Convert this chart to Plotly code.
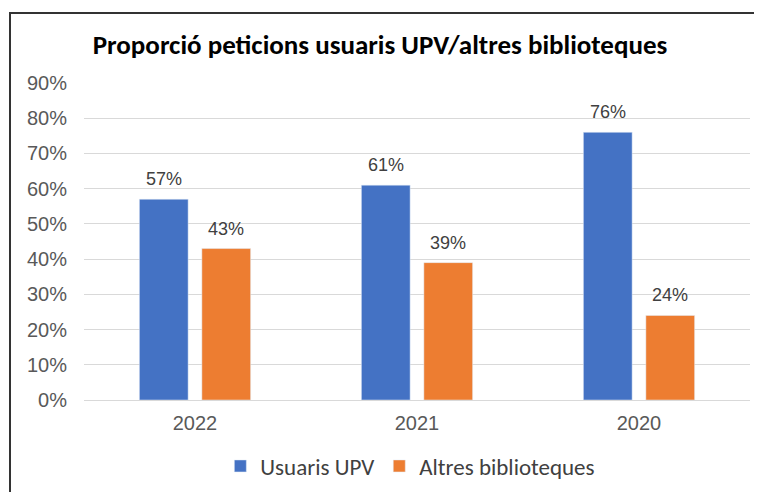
import plotly.graph_objects as go

years = ["2022", "2021", "2020"]
usuaris_upv = [0.57, 0.61, 0.76]
altres_biblioteques = [0.43, 0.39, 0.24]
series_names = ["Usuaris UPV", "Altres biblioteques"]
title_text = "Proporció peticions usuaris UPV/altres biblioteques"

blue = "#4472C4"
orange = "#ED7D31"
tick_color = "#595959"

# page has an 8px body margin; figure coordinates are page - 8
W, H = 754, 484
BARGAP, GROUPGAP = 0.437, 0.22
PLOT_W = W - 76 - 12
slot_px = PLOT_W / len(years) * (1 - BARGAP) / 2

fig = go.Figure()
series = [(series_names[0], usuaris_upv, blue), (series_names[1], altres_biblioteques, orange)]
for name, vals, col in series:
    fig.add_trace(go.Bar(x=years, y=vals, name=name, marker_color=col))

annotations = []
for i, (name, vals, col) in enumerate(series):
    shift = (i - 0.5) * slot_px
    for j, v in enumerate(vals):
        annotations.append(dict(
            x=j, y=v, xref="x", yref="y", text=f"{round(v*100)}%", showarrow=False,
            xanchor="center", yanchor="bottom", xshift=shift, yshift=8,
            font=dict(family="Liberation Sans, Arial", size=18, color="#404040"),
        ))

fig.update_layout(
    width=W, height=H,
    paper_bgcolor="white", plot_bgcolor="white",
    margin=dict(l=76, r=12, t=75, b=92),
    barmode="group", bargap=BARGAP, bargroupgap=GROUPGAP,
    title=dict(text=f"<b>{title_text}</b>", x=(380-8)/W, xanchor="center",
               y=1 - 37/H, yanchor="middle", yref="container",
               font=dict(family="Carlito, Open Sans, sans-serif", size=27, color="#000000")),
    xaxis=dict(type="category", categoryorder="array", categoryarray=years,
               range=[-0.5, len(years) - 0.5], automargin=False,
               showgrid=False, showline=True, linecolor="#d9d9d9", linewidth=1,
               ticks="", ticklabelstandoff=5,
               tickfont=dict(family="Liberation Sans, Arial", size=20, color=tick_color)),
    yaxis=dict(range=[0, 0.9], dtick=0.1, tickformat=".0%", showgrid=True, automargin=False,
               gridcolor="#d9d9d9", gridwidth=1, zeroline=False, ticks="",
               tickfont=dict(family="Liberation Sans, Arial", size=20, color=tick_color),
               ticklabelstandoff=16),
    legend=dict(orientation="h", x=0.49, xanchor="center", xref="paper",
                y=1 - 458/H, yanchor="middle", yref="container",
                font=dict(family="Carlito, Open Sans, sans-serif", size=23, color="#404040"),
                itemwidth=30),
    showlegend=True,
    annotations=annotations,
    shapes=[dict(type="rect", xref="paper", yref="paper",
                 x0=(10-84)/666, x1=1.05, y0=-0.35, y1=(400-13)/317,
                 line=dict(color="#333333", width=2), fillcolor="rgba(0,0,0,0)", layer="below")],
)

fig.write_html("out.html")
